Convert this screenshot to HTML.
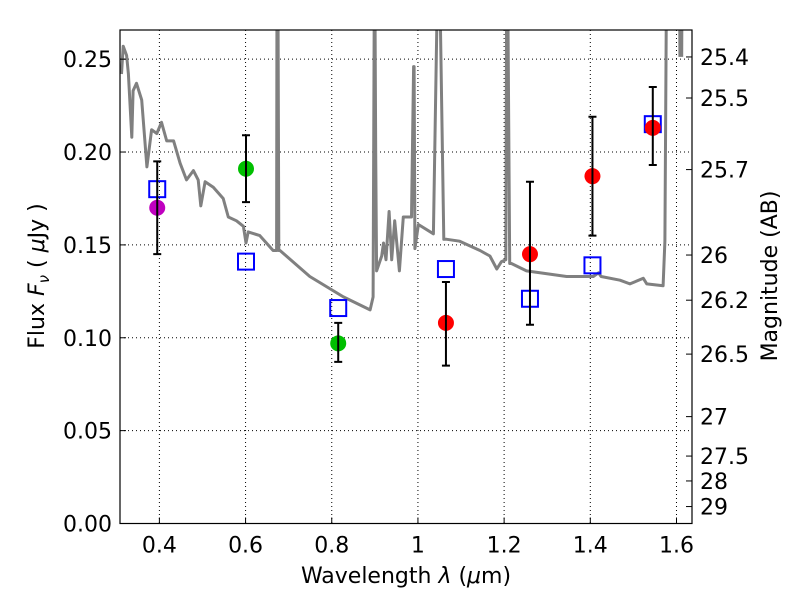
<!DOCTYPE html>
<html><head><meta charset="utf-8"><style>
body{margin:0;background:#fff;}
svg{display:block;font-family:"DejaVu Sans","Liberation Sans",sans-serif;}
</style></head><body>
<svg id="chart" width="800" height="600" viewBox="0 0 800 600" xmlns="http://www.w3.org/2000/svg">
<rect x="0" y="0" width="800" height="600" fill="#fff"/>
<g id="grid"></g>
<g id="spec"></g>
<g id="pts"></g>
<g id="axes"></g>
<text x="406" y="583" font-size="22" text-anchor="middle">Wavelength  <tspan font-style="italic">λ</tspan> (<tspan font-style="italic">μ</tspan>m)</text>
<text transform="translate(44,276) rotate(-90)" font-size="22" text-anchor="middle">Flux  <tspan font-style="italic">F</tspan><tspan font-style="italic" font-size="15" dy="5">ν</tspan><tspan dy="-5">  ( </tspan><tspan font-style="italic">μ</tspan>Jy )</text>
<text transform="translate(777,276) rotate(-90)" font-size="22" text-anchor="middle">Magnitude (AB)</text>
</svg>
<script>
const xTicks=[0.4,0.6,0.8,1.0,1.2,1.4,1.6];
const xTickLabels=["0.4","0.6","0.8","1","1.2","1.4","1.6"];
const yTicks=[0,0.05,0.10,0.15,0.20,0.25];
const yTickLabels=["0.00","0.05","0.10","0.15","0.20","0.25"];
const magTicks=[25.4,25.5,25.7,26,26.2,26.5,27,27.5,28,29];
const magLabels=["25.4","25.5","25.7","26","26.2","26.5","27","27.5","28","29"];
const sqWave=[0.395,0.601,0.815,1.065,1.26,1.405,1.545];
const sqFlux=[0.180,0.141,0.116,0.137,0.121,0.139,0.215];
const ptWave=[0.395,0.601,0.815,1.065,1.26,1.405,1.545];
const ptFlux=[0.170,0.191,0.097,0.108,0.145,0.187,0.213];
const ptLo=[0.145,0.173,0.087,0.085,0.107,0.155,0.193];
const ptHi=[0.195,0.209,0.108,0.130,0.184,0.219,0.235];
const ptColor=["#bf00bf","#00bf00","#00bf00","#ff0000","#ff0000","#ff0000","#ff0000"];
const specWave=[0.312,0.316,0.324,0.328,0.336,0.339,0.347,0.359,0.371,0.382,0.394,0.405,0.417,0.433,0.448,0.463,0.479,0.490,0.496,0.506,0.525,0.548,0.560,0.579,0.595,0.601,0.606,0.633,0.664,0.672,0.673,0.675,0.677,0.680,0.749,0.827,0.889,0.896,0.899,0.900,0.902,0.904,0.916,0.920,0.926,0.933,0.939,0.946,0.957,0.966,0.985,0.990,0.991,0.993,1.001,1.036,1.046,1.050,1.060,1.067,1.097,1.144,1.167,1.183,1.194,1.204,1.206,1.208,1.213,1.217,1.252,1.345,1.407,1.419,1.425,1.469,1.492,1.523,1.531,1.569,1.573,1.577];
const specFlux=[0.242,0.257,0.252,0.242,0.208,0.233,0.237,0.228,0.192,0.212,0.210,0.216,0.206,0.206,0.194,0.185,0.190,0.185,0.171,0.184,0.181,0.175,0.165,0.163,0.160,0.151,0.157,0.155,0.147,0.147,0.30,0.30,0.147,0.147,0.133,0.122,0.115,0.122,0.30,0.30,0.20,0.136,0.144,0.151,0.142,0.168,0.142,0.163,0.136,0.165,0.165,0.246,0.246,0.148,0.161,0.156,0.30,0.30,0.153,0.153,0.152,0.147,0.144,0.137,0.141,0.142,0.30,0.30,0.140,0.140,0.136,0.133,0.133,0.135,0.133,0.131,0.129,0.132,0.129,0.128,0.152,0.30];
const spec2Wave=[1.607,1.608,1.612,1.613];
const spec2Flux=[0.30,0.252,0.252,0.30];

const L=120,R=692,T=30,B=523.5;
const xMin=0.3086,xMax=1.636,yMin=0,yMax=0.2657;
const X=v=>L+(v-xMin)/(xMax-xMin)*(R-L);
const Y=v=>B-(v-yMin)/(yMax-yMin)*(B-T);
const NS="http://www.w3.org/2000/svg";
function mk(tag,attrs,parent){const e=document.createElementNS(NS,tag);for(const k in attrs)e.setAttribute(k,attrs[k]);parent.appendChild(e);return e;}
const grid=document.getElementById('grid'),axes=document.getElementById('axes'),spec=document.getElementById('spec'),pts=document.getElementById('pts');

const defs=mk('defs',{},document.getElementById('chart'));
const cp=mk('clipPath',{id:'clip'},defs);mk('rect',{x:L,y:T,width:R-L,height:B-T},cp);
spec.setAttribute('clip-path','url(#clip)');

xTicks.forEach((t,i)=>{
  const x=X(t);
  const g=mk('line',{x1:x,x2:x,y1:T,y2:B,stroke:'#000','stroke-width':1,'stroke-dasharray':'1,3'},grid);
  
  
  const tk=mk('line',{x1:x,x2:x,y1:B,y2:B-6,stroke:'#000'},axes);
  
  
  const tx=mk('text',{x:x,y:B+29,'font-size':22,'text-anchor':'middle'},axes);
  tx.textContent=xTickLabels[i];
  
  
});
yTicks.forEach((t,i)=>{
  const y=Y(t);
  const g=mk('line',{x1:L,x2:R,y1:y,y2:y,stroke:'#000','stroke-width':1,'stroke-dasharray':'1,3'},grid);
  
  
  const tk=mk('line',{x1:L,x2:L+6,y1:y,y2:y,stroke:'#000'},axes);
  
  
  const tx=mk('text',{x:L-8,y:y+8,'font-size':22,'text-anchor':'end'},axes);
  tx.textContent=yTickLabels[i];
  
  
});
magTicks.forEach((m,i)=>{
  const f=Math.pow(10,(23.9-m)/2.5);
  const y=Y(f);
  const tk=mk('line',{x1:R,x2:R-6,y1:y,y2:y,stroke:'#000'},axes);
  
  
  const tx=mk('text',{x:R+8,y:y+8,'font-size':22},axes);
  tx.textContent=magLabels[i];
  
  
});
const frame=mk('rect',{x:L,y:T,width:R-L,height:B-T,fill:'none',stroke:'#000','stroke-width':1.2},axes);



function line(ws,fs){return ws.map((w,i)=>(i?'L':'M')+X(w).toFixed(1)+','+Y(fs[i]).toFixed(1)).join('');}
const sp=mk('path',{d:line(specWave,specFlux),fill:'none',stroke:'#808080','stroke-width':3,'stroke-linejoin':'round'},spec);


const sp2=mk('path',{d:line(spec2Wave,spec2Flux),fill:'none',stroke:'#808080','stroke-width':3},spec);



sqWave.forEach((w,i)=>{
  const s=mk('rect',{x:X(w)-8,y:Y(sqFlux[i])-8,width:16,height:16,fill:'none',stroke:'#0000ff','stroke-width':2},pts);
  
  
});
ptWave.forEach((w,i)=>{
  const x=X(w);
  const c=mk('circle',{cx:x,cy:Y(ptFlux[i]),r:8,fill:ptColor[i]},pts);
  
  
  const e=mk('path',{d:`M${x},${Y(ptLo[i])}L${x},${Y(ptHi[i])}M${x-4},${Y(ptLo[i])}L${x+4},${Y(ptLo[i])}M${x-4},${Y(ptHi[i])}L${x+4},${Y(ptHi[i])}`,stroke:'#000','stroke-width':2,fill:'none'},pts);
  
  
});
</script>
</body></html>
